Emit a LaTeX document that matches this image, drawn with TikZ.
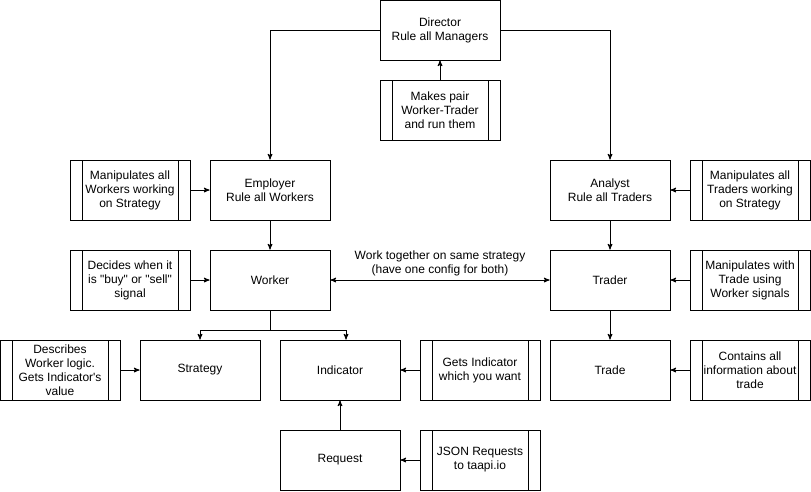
\documentclass[tikz,border=0pt]{standalone}
\usepackage{fontspec}
\setmainfont{Liberation Sans}
\usetikzlibrary{arrows}

\tikzset{
  box/.style={draw, minimum width=120pt, minimum height=60pt, align=center, inner sep=2pt},
  procbox/.style={box, path picture={
      \draw ([xshift=12pt]path picture bounding box.north west) -- ([xshift=12pt]path picture bounding box.south west);
      \draw ([xshift=-12pt]path picture bounding box.north east) -- ([xshift=-12pt]path picture bounding box.south east);
  }},
}

\begin{document}
\begin{tikzpicture}[x=1pt, y=-1pt, >=stealth', line width=1pt, font=\fontsize{12}{14}\selectfont]
  \useasboundingbox (0,0) rectangle (811,491);
  % top
  \node[box] (dir) at (440,30) {Director\\Rule all Managers};
  \node[procbox] (pair) at (440,110) {Makes pair\\Worker-Trader\\and run them};
  % worker side
  \node[box] (emp) at (270,190) {Employer\\Rule all Workers};
  \node[procbox] (empnote) at (130,190) {Manipulates all\\Workers working\\on Strategy};
  \node[box] (wrk) at (270,280) {Worker};
  \node[procbox] (wrknote) at (130,280) {Decides when it\\is \textquotedbl buy\textquotedbl{} or \textquotedbl sell\textquotedbl\\signal};
  \node[box] (strat) at (200,370) {Strategy};
  \node[procbox] (stratnote) at (60,370) {Describes\\Worker logic.\\Gets Indicator\textquotesingle s\\value};
  \node[box] (ind) at (340,370) {Indicator};
  \node[procbox] (indnote) at (480,370) {Gets Indicator\\which you want};
  \node[box] (req) at (340,460) {Request};
  \node[procbox] (reqnote) at (480,460) {JSON Requests\\to taapi.io};
  % trader side
  \node[box] (ana) at (610,190) {Analyst\\Rule all Traders};
  \node[procbox] (ananote) at (750,190) {Manipulates all\\Traders working\\on Strategy};
  \node[box] (trd) at (610,280) {Trader};
  \node[procbox] (trdnote) at (750,280) {Manipulates with\\Trade using\\Worker signals};
  \node[box] (trade) at (610,370) {Trade};
  \node[procbox] (tradenote) at (750,370) {Contains all\\information about\\trade};

  \draw[->] (dir.west) -| (emp.north);
  \draw[->] (dir.east) -| (ana.north);
  \draw[->] (wrk.south) -- ++(0,20) -| (strat.north);
  \draw[->] (wrk.south) -- ++(0,20) -| ([xshift=6pt]ind.north);
  \path[->]
  (pair) edge (dir)
  (empnote) edge (emp)
  (emp) edge (wrk)
  (wrknote) edge (wrk)
  (stratnote) edge (strat)
  (indnote) edge (ind)
  (req) edge (ind)
  (reqnote) edge (req)
  (ananote) edge (ana)
  (ana) edge (trd)
  (trdnote) edge (trd)
  (trd) edge (trade)
  (tradenote) edge (trade)
  ;
  \path[<->] (wrk) edge node [above, align=center] {Work together on same strategy\\(have one config for both)} (trd);
\end{tikzpicture}
\end{document}
